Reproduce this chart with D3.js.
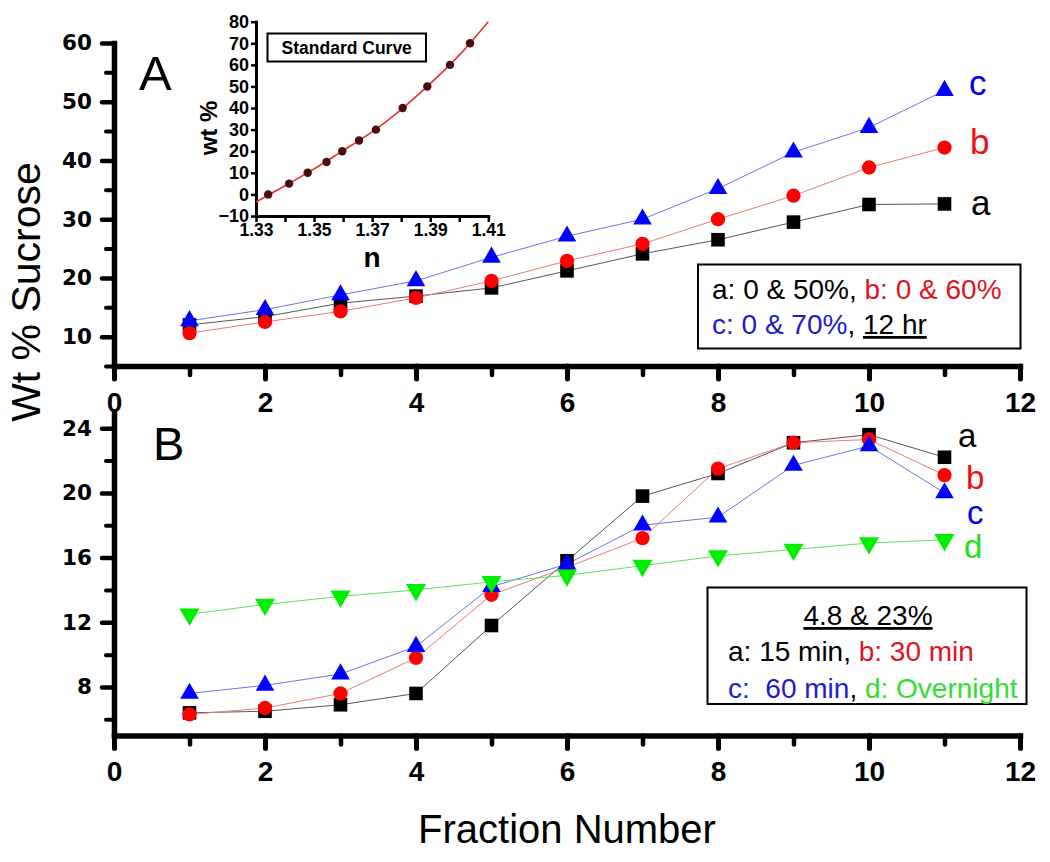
<!DOCTYPE html>
<html><head><meta charset="utf-8">
<script src="https://cdn.jsdelivr.net/npm/d3@7"></script>
<style>body{margin:0;background:#fff} svg{display:block} text{white-space:pre}</style>
</head><body><svg id="c" width="1050" height="862"></svg>
<script>
// ---------- data ----------
const fractions = [1,2,3,4,5,6,7,8,9,10,11];
const panelA_a = [12.0,13.4,15.7,16.9,18.3,21.2,24.1,26.5,29.5,32.5,32.6];
const panelA_b = [10.6,12.5,14.3,16.6,19.5,22.9,25.8,30.0,34.0,38.8,42.2];
const panelA_c = [12.7,14.6,17.1,19.5,23.5,27.1,30.0,35.2,41.4,45.6,51.9];
const panelB_a = [6.4,6.5,6.9,7.6,11.8,15.8,19.8,21.2,23.1,23.6,22.2];
const panelB_b = [6.3,6.7,7.6,9.8,13.7,15.4,17.2,21.5,23.1,23.3,21.1];
const panelB_c = [7.6,8.1,8.8,10.5,14.2,15.6,18.0,18.5,21.7,22.9,20.0];
const panelB_d = [12.5,13.1,13.6,14.0,14.5,14.9,15.5,16.1,16.5,16.9,17.1];
const stdN  = [1.3342,1.3414,1.3478,1.3543,1.3597,1.3655,1.3713,1.3805,1.3890,1.3968,1.4037];
const stdWt = [0,5,10,15,20,25,30,40,50,60,70];
const fitN  = [1.33,1.34,1.35,1.36,1.37,1.38,1.39,1.40,1.41];
const fitWt = [-3.5,4.0,11.8,20.3,29.0,39.3,51.3,64.5,80.0];
const xMajorTicks = [0,2,4,6,8,10,12];
const xMinorTicks = [1,3,5,7,9,11];
const yMajorA = [10,20,30,40,50,60];
const yMinorA = [5,15,25,35,45,55];
const yMajorB = [8,12,16,20,24];
const yMinorB = [6,10,14,18,22];
const insetXLabelTicks = [1.33,1.35,1.37,1.39,1.41];
const insetXAllTicks = [1.33,1.34,1.35,1.36,1.37,1.38,1.39,1.40,1.41];
const insetYTicks = [-10,0,10,20,30,40,50,60,70,80];

// ---------- setup ----------
const svg = d3.select("#c");
const AR = "Liberation Sans, Arial, sans-serif";
const DJ = "DejaVu Sans, sans-serif";

const x = d3.scaleLinear().domain([0,12]).range([114,1020]);
const yA = d3.scaleLinear().domain([5,60]).range([366,43]);
const yB = d3.scaleLinear().domain([5,25]).range([735.5,412]);
const xI = d3.scaleLinear().domain([1.33,1.41]).range([256,488.3]);
const yI = d3.scaleLinear().domain([-10,80]).range([216,21.7]);

function styleAxis(g, w){
  g.select(".domain").attr("stroke","#000").attr("stroke-width",w).attr("stroke-linecap","square");
}

function mainAxes(y, yMaj, yMin){
  const y0 = y.range()[0];
  const gxm = svg.append("g").attr("transform",`translate(0,${y0})`)
    .call(d3.axisBottom(x).tickValues(xMinorTicks).tickSize(9).tickFormat(""));
  gxm.select(".domain").remove();
  gxm.selectAll(".tick line").attr("stroke-width",4.5).attr("stroke-linecap","round");
  const gx = svg.append("g").attr("transform",`translate(0,${y0})`)
    .call(d3.axisBottom(x).tickValues(xMajorTicks).tickSize(13).tickSizeOuter(0).tickPadding(13).tickFormat(d3.format("d")));
  styleAxis(gx, 5.5);
  gx.selectAll(".tick line").attr("stroke-width",5).attr("stroke-linecap","round");
  gx.selectAll(".tick text").attr("font-family",AR).attr("font-weight","bold").attr("font-size",28).attr("fill","#000");
  const gym = svg.append("g").attr("transform",`translate(${x(0)},0)`)
    .call(d3.axisLeft(y).tickValues(yMin).tickSize(8).tickFormat(""));
  gym.select(".domain").remove();
  gym.selectAll(".tick line").attr("stroke-width",4).attr("stroke-linecap","round");
  const gy = svg.append("g").attr("transform",`translate(${x(0)},0)`)
    .call(d3.axisLeft(y).tickValues(yMaj).tickSize(12).tickSizeOuter(0).tickPadding(10).tickFormat(d3.format("d")));
  styleAxis(gy, 5.5);
  gy.selectAll(".tick line").attr("stroke-width",4.5).attr("stroke-linecap","round");
  gy.selectAll(".tick text").attr("font-family",DJ).attr("font-weight","bold").attr("font-size",21.5).attr("fill","#000");
}
mainAxes(yA, yMajorA, yMinorA);
mainAxes(yB, yMajorB, yMinorB);

// ---------- series ----------
const red="#ff0000", blue="#0000ff", green="#00ee00";
function series(y, vals, lineColor){
  const pts = fractions.map((f,i)=>[f, vals[i]]);
  svg.append("path").datum(pts)
    .attr("fill","none").attr("stroke",lineColor).attr("stroke-width",1)
    .attr("d", d3.line().x(d=>x(d[0])).y(d=>y(d[1])));
  return pts;
}
function markers(y, pts, fill, sym, size, rot){
  svg.append("g").selectAll("path").data(pts).join("path")
    .attr("d", d3.symbol().type(sym).size(size)())
    .attr("fill", fill)
    .attr("transform", d=>`translate(${x(d[0])},${y(d[1])}) rotate(${rot||0})`);
}
const A = [
  [panelA_a,"#555","#000",d3.symbolSquare,185,0],
  [panelA_b,"#f07878",red,d3.symbolCircle,160,0],
  [panelA_c,"#7070f0",blue,d3.symbolTriangle,150,0]
];
const Apts = A.map(s=>series(yA,s[0],s[1]));
A.forEach((s,i)=>markers(yA,Apts[i],s[2],s[3],s[4],s[5]));

const B = [
  [panelB_a,"#555","#000",d3.symbolSquare,185,0],
  [panelB_b,"#f07878",red,d3.symbolCircle,160,0],
  [panelB_c,"#7070f0",blue,d3.symbolTriangle,150,0],
  [panelB_d,"#60e060",green,d3.symbolTriangle,175,180]
];
const Bpts = B.map(s=>series(yB,s[0],s[1]));
B.forEach((s,i)=>markers(yB,Bpts[i],s[2],s[3],s[4],s[5]));

function label(txt, xx, yy, col, fs){
  svg.append("text").attr("x",xx).attr("y",yy).text(txt)
    .attr("font-family",AR).attr("font-size",fs).attr("fill",col);
}
label("c",969,95,"#0000ee",35); label("b",970,154,"#ee1111",35); label("a",971,215,"#000",35);
label("a",958,447,"#000",33); label("b",966,489,"#ee1111",33); label("c",967,524,"#0000ee",33); label("d",964,558,"#22dd22",33);

svg.append("text").attr("x",139).attr("y",90).text("A").attr("font-family",AR).attr("font-size",49);
svg.append("text").attr("x",153).attr("y",460).text("B").attr("font-family",AR).attr("font-size",47);

svg.append("text").attr("x",567).attr("y",843).attr("text-anchor","middle").text("Fraction Number")
  .attr("font-family",AR).attr("font-size",40);
svg.append("text").attr("transform","translate(40,292) rotate(-90)").attr("text-anchor","middle").text("Wt % Sucrose")
  .attr("font-family",AR).attr("font-size",41);

// ---------- legends ----------
const legA = svg.append("g");
legA.append("rect").attr("x",698).attr("y",264.5).attr("width",322.5).attr("height",84)
  .attr("fill","#fff").attr("stroke","#000").attr("stroke-width",2);
const la1 = legA.append("text").attr("x",712).attr("y",299).attr("font-family",AR).attr("font-size",28);
la1.append("tspan").attr("fill","#000").text("a: 0 & 50%, ");
la1.append("tspan").attr("fill","#e0141e").text("b: 0 & 60%");
const la2 = legA.append("text").attr("x",712).attr("y",334).attr("font-family",AR).attr("font-size",28);
la2.append("tspan").attr("fill","#1c1ccc").text("c: 0 & 70%");
la2.append("tspan").attr("fill","#000").text(", ");
la2.append("tspan").attr("fill","#000").attr("text-decoration","underline").text("12 hr");

const legB = svg.append("g");
legB.append("rect").attr("x",707.5).attr("y",587.5).attr("width",319).attr("height",116.5)
  .attr("fill","#fff").attr("stroke","#000").attr("stroke-width",2);
legB.append("text").attr("x",868).attr("y",625).attr("text-anchor","middle").attr("font-family",AR).attr("font-size",28)
  .attr("text-decoration","underline").text("4.8 & 23%");
const lb2 = legB.append("text").attr("x",728).attr("y",661).attr("font-family",AR).attr("font-size",28);
lb2.append("tspan").attr("fill","#000").text("a: 15 min, ");
lb2.append("tspan").attr("fill","#e0141e").text("b: 30 min");
const lb3 = legB.append("text").attr("x",728).attr("y",698).attr("font-family",AR).attr("font-size",28);
lb3.append("tspan").attr("fill","#1c1ccc").text("c:  60 min");
lb3.append("tspan").attr("fill","#000").text(", ");
lb3.append("tspan").attr("fill","#33dd33").text("d: Overnight");

// ---------- inset ----------
const ins = svg.append("g");
const gix = ins.append("g").attr("transform",`translate(0,${yI.range()[0]})`)
  .call(d3.axisBottom(xI).tickValues(insetXAllTicks).tickSize(6).tickSizeOuter(0).tickPadding(2)
    .tickFormat(d=> insetXLabelTicks.some(v=>Math.abs(v-d)<1e-9) ? d3.format(".2f")(d) : ""));
styleAxis(gix, 3);
gix.selectAll(".tick line").attr("stroke-width",2.5);
gix.selectAll(".tick text").attr("font-family",AR).attr("font-weight","bold").attr("font-size",17.5).attr("fill","#000");
const giy = ins.append("g").attr("transform",`translate(${xI.range()[0]},0)`)
  .call(d3.axisLeft(yI).tickValues(insetYTicks).tickSize(5).tickSizeOuter(0).tickPadding(2).tickFormat(d3.format("d")));
styleAxis(giy, 3);
giy.selectAll(".tick line").attr("stroke-width",2.5);
giy.selectAll(".tick text").attr("font-family",AR).attr("font-weight","bold").attr("font-size",18).attr("fill","#000");

ins.append("path").datum(fitN.map((n,i)=>[n,fitWt[i]]))
  .attr("fill","none").attr("stroke","#e83030").attr("stroke-width",1.6)
  .attr("d", d3.line().x(d=>xI(d[0])).y(d=>yI(d[1])).curve(d3.curveNatural));
ins.append("g").selectAll("circle").data(stdN.map((n,i)=>[n,stdWt[i]])).join("circle")
  .attr("cx",d=>xI(d[0])).attr("cy",d=>yI(d[1])).attr("r",4.2).attr("fill","#4a0d0d");

ins.append("rect").attr("x",267.5).attr("y",33.5).attr("width",158.5).attr("height",28)
  .attr("fill","#fff").attr("stroke","#000").attr("stroke-width",2);
ins.append("text").attr("x",346.7).attr("y",53.5).attr("text-anchor","middle").text("Standard Curve")
  .attr("font-family",AR).attr("font-weight","bold").attr("font-size",17.5);
ins.append("text").attr("x",372).attr("y",267).attr("text-anchor","middle").text("n")
  .attr("font-family",AR).attr("font-weight","bold").attr("font-size",28);
ins.append("text").attr("transform","translate(217,128) rotate(-90)").attr("text-anchor","middle").text("wt %")
  .attr("font-family",AR).attr("font-weight","bold").attr("font-size",24);
</script></body></html>
